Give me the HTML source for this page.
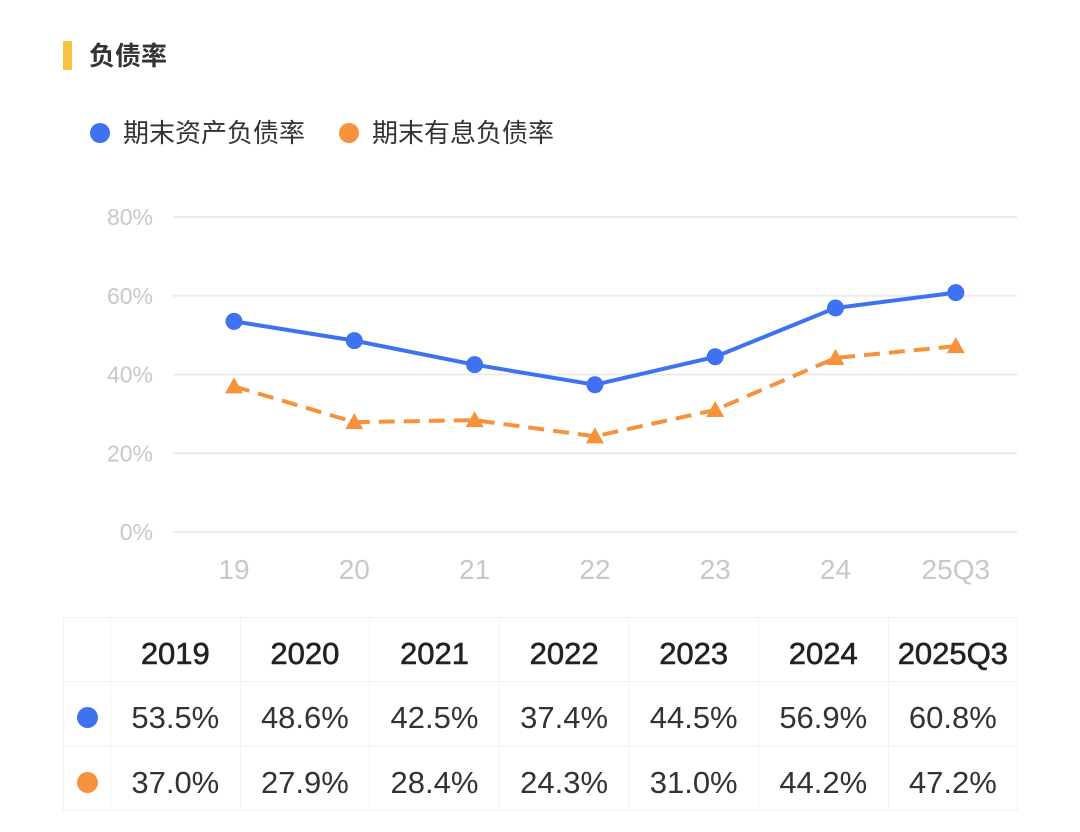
<!DOCTYPE html>
<html><head><meta charset="utf-8">
<style>
body{margin:0;width:1080px;height:832px;background:#fff;font-family:"Liberation Sans","Noto Sans CJK SC",sans-serif;position:relative;overflow:hidden}
.abs{position:absolute}
table{position:absolute;left:63px;top:617px;border-collapse:collapse;color:#333;table-layout:fixed;width:954px}
td{border:1.5px solid #f2f2f2;text-align:center;font-size:31px;padding:8px 0 0 0;box-sizing:border-box;white-space:nowrap}
</style></head><body>
<div class="abs" style="left:63px;top:41px;width:9px;height:29px;background:#f7c244;border-radius:1px"></div>
<div class="abs" style="left:89px;top:40px;font-size:26px;color:#333;font-weight:bold;line-height:32px">负债率</div>
<div class="abs" style="left:90px;top:118px;font-size:26px;color:#333;line-height:30px"><span style="display:inline-block;width:20px;height:20px;border-radius:50%;background:#3e72f0;vertical-align:-1px;margin-right:13px"></span>期末资产负债率</div>
<div class="abs" style="left:339px;top:118px;font-size:26px;color:#333;line-height:30px"><span style="display:inline-block;width:20px;height:20px;border-radius:50%;background:#f6923b;vertical-align:-1px;margin-right:13px"></span>期末有息负债率</div>
<svg class="abs" style="left:0;top:0" width="1080" height="600" id="chart"></svg>
<table id="tbl"></table>
<script>
const categories=["19","20","21","22","23","24","25Q3"];
const years=["2019","2020","2021","2022","2023","2024","2025Q3"];
const assetRatio=[53.5,48.6,42.5,37.4,44.5,56.9,60.8];
const interestRatio=[37.0,27.9,28.4,24.3,31.0,44.2,47.2];
const yTicks=[0,20,40,60,80];
const NS="http://www.w3.org/2000/svg";
const svg=document.getElementById('chart');
const x=i=>234+i*120.3;
const y=v=>532-v*3.9375;
function mk(t,a){const e=document.createElementNS(NS,t);for(const k in a)e.setAttribute(k,a[k]);svg.appendChild(e);return e;}
yTicks.forEach(v=>{
 const l=mk('line',{x1:173,x2:1017,y1:y(v),y2:y(v),stroke:'#ebebeb','stroke-width':2});
 
 
 const t=mk('text',{x:153,y:y(v)+8,'text-anchor':'end','font-size':23,fill:'#c8c8c8','font-family':'Liberation Sans'});
 t.textContent=v+'%';
 
 
});
categories.forEach((c,i)=>{
 const t=mk('text',{x:x(i),y:579,'text-anchor':'middle','font-size':28,fill:'#c8c8c8','font-family':'Liberation Sans'});
 t.textContent=c;
 
 
});
const p2=mk('polyline',{points:interestRatio.map((v,i)=>x(i)+','+y(v)).join(' '),fill:'none',stroke:'#f6923b','stroke-width':4,'stroke-dasharray':'16 9'});


interestRatio.forEach((v,i)=>{
 const cx=x(i),cy=y(v);
 const t=mk('polygon',{points:`${cx},${cy-9} ${cx+9},${cy+7} ${cx-9},${cy+7}`,fill:'#f6923b'});
 
 
});
const p1=mk('polyline',{points:assetRatio.map((v,i)=>x(i)+','+y(v)).join(' '),fill:'none',stroke:'#3e72f0','stroke-width':4});


assetRatio.forEach((v,i)=>{
 const c=mk('circle',{cx:x(i),cy:y(v),r:8.5,fill:'#3e72f0'});
 
 
});
const tbl=document.getElementById('tbl');
function row(h,cells,dot,bold){
 const tr=document.createElement('tr');
 tr.style.height=h+'px';
 const f=document.createElement('td');f.style.width='47px';
 if(dot){f.innerHTML=`<span style="display:inline-block;width:21px;height:21px;border-radius:50%;background:${dot}"></span>`;}
 tr.appendChild(f);
 cells.forEach(c=>{const td=document.createElement('td');td.style.width='129.6px';td.textContent=c;if(bold){td.style.color='#222';td.style.webkitTextStroke='0.6px #222';}tr.appendChild(td);});
 tbl.appendChild(tr);
}
row(64,years,null,true);
row(65,assetRatio.map(v=>v.toFixed(1)+'%'),'#3e72f0');
row(64,interestRatio.map(v=>v.toFixed(1)+'%'),'#f6923b');
</script>
</body></html>
